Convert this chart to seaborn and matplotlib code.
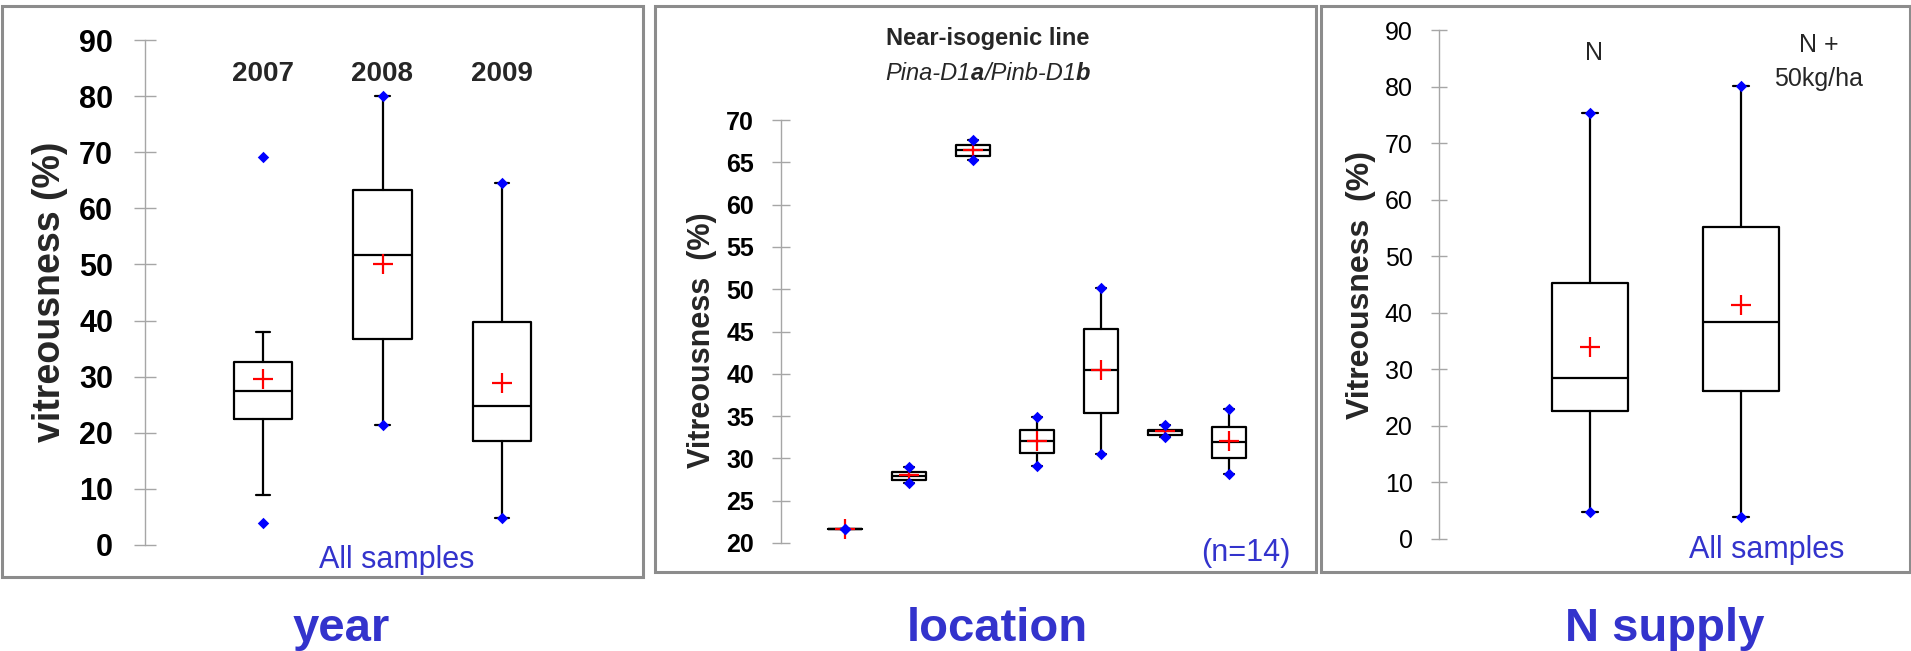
import matplotlib
matplotlib.use("Agg")
import matplotlib.pyplot as plt
from matplotlib.patches import Rectangle
import seaborn as sns

# ---------------- data ----------------
year_cats = ["2007", "2008", "2009"]
year_q1 = [22.5, 36.7, 18.6]
year_med = [27.5, 51.6, 24.8]
year_q3 = [32.7, 63.2, 39.7]
year_wlo = [9.0, 21.3, 4.8]
year_whi = [37.9, 80.0, 64.6]
year_mean = [29.5, 50.0, 28.8]
year_min = [3.9, 21.3, 4.8]
year_max = [69.2, 80.0, 64.6]

loc_cats = ["L1", "L2", "L3", "L4", "L5", "L6", "L7"]
loc_q1 = [21.6, 27.5, 65.8, 30.6, 35.4, 32.8, 30.0]
loc_med = [21.6, 27.9, 66.4, 32.1, 40.4, 33.2, 31.9]
loc_q3 = [21.6, 28.4, 67.0, 33.4, 45.3, 33.4, 33.7]
loc_min = [21.6, 27.1, 65.3, 29.1, 30.5, 32.5, 28.2]
loc_max = [21.6, 29.0, 67.6, 34.9, 50.2, 33.9, 35.8]
loc_mean = [21.6, 28.0, 66.4, 32.1, 40.5, 33.2, 32.0]

n_cats = ["N", "N +\n50kg/ha"]
n_q1 = [22.7, 26.1]
n_med = [28.5, 38.3]
n_q3 = [45.2, 55.2]
n_min = [4.7, 3.9]
n_max = [75.3, 80.1]
n_mean = [33.9, 41.4]

year_ticks = list(range(0, 91, 10))
loc_ticks = list(range(20, 71, 5))
n_ticks = list(range(0, 91, 10))

# ---------------- style ----------------
sns.set_style("white")
plt.rcParams["font.family"] = ["Liberation Sans", "DejaVu Sans"]

W, H = 1911, 651
fig = plt.figure(figsize=(W / 100, H / 100), dpi=100)
fig.patch.set_facecolor("white")

BLUE_TXT = "#3333CC"
FRAME = "#8C8C8C"
AXC = "#A6A6A6"


def fx(px):
    return px / W


def fy(py):
    return 1 - py / H


def ftext(px, py, s, **kw):
    return fig.text(fx(px), fy(py), s, **kw)


def make_ax(left, right, top, bottom):
    return fig.add_axes([fx(left), fy(bottom), (right - left) / W, (bottom - top) / H])


def draw_panel(ax, q1, med, q3, wlo, whi, mean, vmin, vmax, width, capw,
               ticks, tick_len, tick_pad, tick_fs, tick_weight):
    n = len(q1)
    pos = list(range(n))
    stats = []
    for i in range(n):
        stats.append(dict(q1=q1[i], med=med[i], q3=q3[i], whislo=wlo[i], whishi=whi[i],
                          mean=mean[i], fliers=[]))
    lw = 1.6
    ax.bxp(stats, positions=pos, widths=width, capwidths=capw, showfliers=False,
           showmeans=False, manage_ticks=False,
           boxprops=dict(color="black", lw=lw),
           whiskerprops=dict(color="black", lw=lw),
           capprops=dict(color="black", lw=lw),
           medianprops=dict(color="black", lw=lw))
    sns.scatterplot(x=pos, y=mean, marker="+", color="#FF0000", s=190, linewidth=1.6,
                    ax=ax, zorder=6, clip_on=False)
    sns.scatterplot(x=pos + pos, y=list(vmin) + list(vmax), marker="D", color="#0000FF",
                    s=34, linewidth=0, ax=ax, zorder=7, clip_on=False)
    ax.set_xlabel("")
    ax.set_ylabel("")
    ax.set_xticks([])
    ax.set_yticks(ticks)
    ax.set_ylim(ticks[0], ticks[-1])
    for s in ["top", "right", "bottom"]:
        ax.spines[s].set_visible(False)
    ax.spines["left"].set_color(AXC)
    ax.spines["left"].set_linewidth(1.0)
    ax.tick_params(axis="y", direction="inout", length=tick_len, width=1.0, color=AXC,
                   pad=tick_pad, labelsize=tick_fs, labelcolor="black", left=True)
    for t in ax.get_yticklabels():
        t.set_fontweight(tick_weight)
    ax.set_facecolor("none")
    ax.grid(False)


# ---------------- panel frames ----------------
for (x0, y0, x1, y1) in [(1.5, 6, 643, 577), (655, 6, 1316, 572), (1321, 6, 1909.5, 572)]:
    fig.add_artist(Rectangle((fx(x0), fy(y1)), (x1 - x0) / W, (y1 - y0) / H,
                             transform=fig.transFigure, fill=False, edgecolor=FRAME, lw=2.2))

# ---------------- panel 1: year ----------------
ax1 = make_ax(145, 625, 40, 545)
draw_panel(ax1, year_q1, year_med, year_q3, year_wlo, year_whi, year_mean, year_min, year_max,
           width=0.49, capw=0.12, ticks=year_ticks, tick_len=16, tick_pad=15,
           tick_fs=22, tick_weight="bold")
ax1.set_xlim(-(263 - 145) / 119.5, -(263 - 145) / 119.5 + 480 / 119.5)
for i, c in enumerate(year_cats):
    ftext(263 + 119.5 * i, 74, c, ha="center", va="center", fontsize=20, fontweight="bold")
ftext(50, 292, "vitreousness (%)", rotation=90, ha="center", va="center",
      fontsize=27, fontweight="bold")
ftext(397, 560, "All samples", ha="center", va="center", fontsize=22, color=BLUE_TXT)

# ---------------- panel 2: location ----------------
ax2 = make_ax(781, 1300, 120, 543)
draw_panel(ax2, loc_q1, loc_med, loc_q3, loc_min, loc_max, loc_mean, loc_min, loc_max,
           width=0.53, capw=0.15, ticks=loc_ticks, tick_len=13, tick_pad=13,
           tick_fs=18, tick_weight="bold")
ax2.set_xlim(-1.0, -1.0 + 519 / 64)
ftext(702, 340, "Vitreousness  (%)", rotation=90, ha="center", va="center",
      fontsize=22, fontweight="bold")
ftext(988, 39, "Near-isogenic line", ha="center", va="center", fontsize=17, fontweight="bold")
ftext(1246, 553, "(n=14)", ha="center", va="center", fontsize=22, color=BLUE_TXT)

# italic subtitle with bold allele letters
pieces = [("Pina-D1", "normal"), ("a", "bold"), ("/Pinb-D1", "normal"), ("b", "bold")]
renderer = fig.canvas.get_renderer()
objs = []
widths = []
for s, wt in pieces:
    t = ftext(0, 73, s, ha="left", va="center", fontsize=17, style="italic", fontweight=wt)
    objs.append(t)
    widths.append(t.get_window_extent(renderer).width)
total = sum(widths)
xs = 988 - total / 2
for t, wdt in zip(objs, widths):
    t.set_x(fx(xs))
    xs += wdt

# ---------------- panel 3: N supply ----------------
ax3 = make_ax(1439, 1900, 30, 539)
draw_panel(ax3, n_q1, n_med, n_q3, n_min, n_max, n_mean, n_min, n_max,
           width=0.5, capw=0.11, ticks=n_ticks, tick_len=12, tick_pad=13,
           tick_fs=18, tick_weight="normal")
ax3.set_xlim(-1.0, -1.0 + 461 / 151)
ftext(1361, 285, "Vitreousness  (%)", rotation=90, ha="center", va="center",
      fontsize=23, fontweight="bold")
ftext(1594, 53, n_cats[0], ha="center", va="center", fontsize=18)
ftext(1819, 62, n_cats[1], ha="center", va="center", fontsize=18, linespacing=1.5)
ftext(1767, 550, "All samples", ha="center", va="center", fontsize=22, color=BLUE_TXT)

# ---------------- bottom labels ----------------
for px, s in [(341, "year"), (997, "location"), (1665, "N supply")]:
    ftext(px, 641, s, ha="center", va="baseline", fontsize=34, fontweight="bold", color=BLUE_TXT)

fig.savefig("out.png", dpi=100, facecolor="white")
